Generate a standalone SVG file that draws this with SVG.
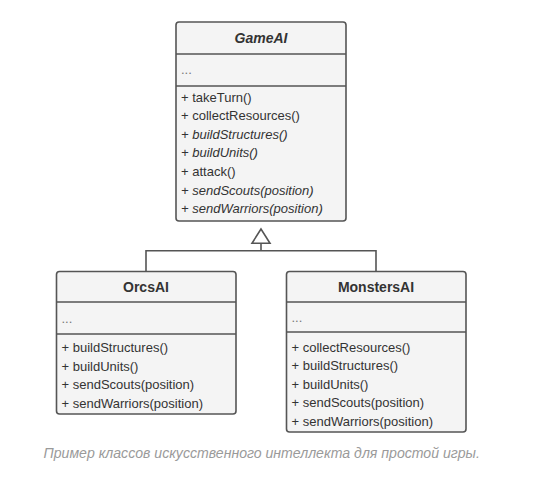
<svg xmlns="http://www.w3.org/2000/svg" width="537" height="481" viewBox="0 0 537 481">
<style>
.box{fill:#f4f4f4;stroke:#555;stroke-width:1.6}
.sep{stroke:#555;stroke-width:1.6;fill:none}
.conn{stroke:#555;stroke-width:1.6;fill:none}
text{font-family:"Liberation Sans",Arial,sans-serif;font-size:13px;fill:#333}
.title{font-weight:bold;font-size:14px;text-anchor:middle}
.it{font-style:italic}
.dots{fill:#777}
.cap{font-style:italic;fill:#9a9a9a;text-anchor:middle;font-size:14.1px}
</style>
<rect width="537" height="481" fill="#fff"/>
<g id="connectors">
<polyline class="conn" points="146,271.5 146,250.7 376,250.7 376,271.5"/>
<line class="conn" x1="261" y1="250.7" x2="261" y2="243.3"/>
<polygon class="conn" points="261,229 252,243.3 270,243.3" fill="#fff"/>
</g>
<g id="GameAI">
<rect class="box" x="176" y="22" width="170" height="199" rx="3"/>
<line class="sep" x1="176" y1="54" x2="346" y2="54"/>
<line class="sep" x1="176" y1="86" x2="346" y2="86"/>
<text class="title it" x="261" y="43">GameAI</text>
<text class="dots" x="181" y="74">...</text>
<text x="181" y="101.5">+ takeTurn()</text>
<text x="181" y="120.1">+ collectResources()</text>
<text x="181" y="138.7" class="it">+ buildStructures()</text>
<text x="181" y="157.3" class="it">+ buildUnits()</text>
<text x="181" y="175.9">+ attack()</text>
<text x="181" y="194.5" class="it">+ sendScouts(position)</text>
<text x="181" y="213.1" class="it">+ sendWarriors(position)</text>
</g>
<g id="OrcsAI">
<rect class="box" x="56.5" y="271.5" width="179.5" height="142.5" rx="3"/>
<line class="sep" x1="56.5" y1="302" x2="236" y2="302"/>
<line class="sep" x1="56.5" y1="334" x2="236" y2="334"/>
<text class="title" x="146" y="292">OrcsAI</text>
<text class="dots" x="61.5" y="323">...</text>
<text x="61.5" y="352">+ buildStructures()</text>
<text x="61.5" y="370.5">+ buildUnits()</text>
<text x="61.5" y="389">+ sendScouts(position)</text>
<text x="61.5" y="407.5">+ sendWarriors(position)</text>
</g>
<g id="MonstersAI">
<rect class="box" x="286.5" y="271.5" width="179.5" height="160.5" rx="3"/>
<line class="sep" x1="286.5" y1="302" x2="466" y2="302"/>
<line class="sep" x1="286.5" y1="332" x2="466" y2="332"/>
<text class="title" x="376" y="292">MonstersAI</text>
<text class="dots" x="291.5" y="322">...</text>
<text x="291.5" y="351.5">+ collectResources()</text>
<text x="291.5" y="370">+ buildStructures()</text>
<text x="291.5" y="388.5">+ buildUnits()</text>
<text x="291.5" y="407">+ sendScouts(position)</text>
<text x="291.5" y="425.5">+ sendWarriors(position)</text>
</g>
<text class="cap" x="261.7" y="458">Пример классов искусственного интеллекта для простой игры.</text>
</svg>
